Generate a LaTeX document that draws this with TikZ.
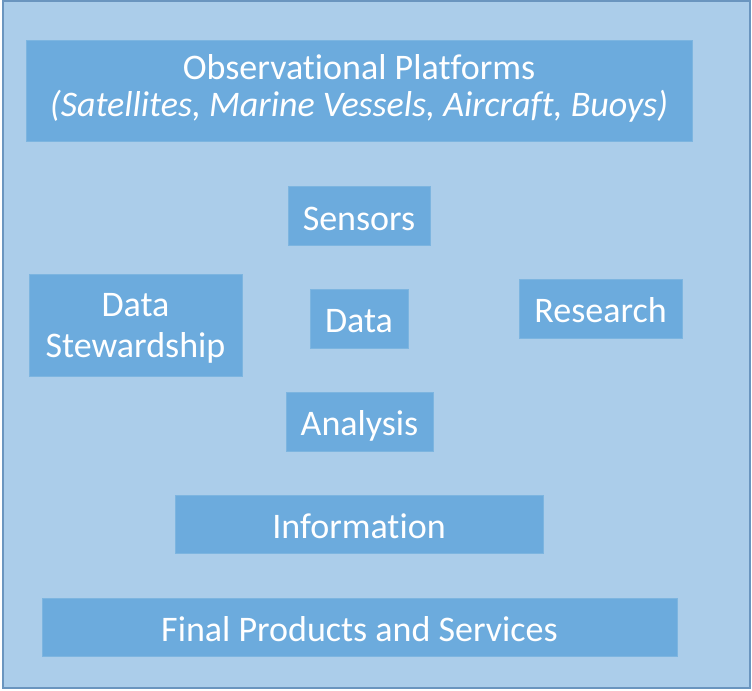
\documentclass[tikz,border=0pt]{standalone}
\usepackage{fontspec}
\setmainfont{Carlito}[Ligatures={NoCommon,NoContextual}]
\usetikzlibrary{positioning}
\definecolor{panelfill}{HTML}{ABCDEA}
\definecolor{paneldraw}{HTML}{6A95BF}
\definecolor{boxfill}{HTML}{6CABDD}
\definecolor{boxdraw}{HTML}{7DB5E0}
% text of a box: last baseline #1 below the centre, lines #2 apart
\newcommand{\stagetext}[3]{\raisebox{-#1}[0pt][0pt]{\fontsize{27}{#2}\selectfont\begin{tabular}[b]{@{}c@{}}#3\end{tabular}}}

\begin{document}
\begin{tikzpicture}[x=0.75pt, y=-0.75pt,
				panel/.style={rectangle, draw=paneldraw, fill=panelfill, line width=1.2pt},
				stage/.style={rectangle, draw=boxdraw, fill=boxfill, text=white, inner sep=0pt},
			]
			\useasboundingbox (0,0) rectangle (752,690);
			\draw[panel] (3,1) rectangle (750,688);
			\node[stage, minimum width=666*0.75pt, minimum height=101*0.75pt] (platforms) at (359,90.5) {\stagetext{19.8pt}{27.6pt}{Observational Platforms\\\textit{(Satellites, Marine Vessels, Aircraft, Buoys)}}};
			\node[stage, minimum width=142*0.75pt, minimum height=59*0.75pt] (sensors) at (359,215.5) {\stagetext{11.4pt}{32pt}{Sensors}};
			\node[stage, minimum width=213*0.75pt, minimum height=102*0.75pt] (stewardship) at (135.5,325) {\stagetext{24.2pt}{30.8pt}{Data\\Stewardship}};
			\node[stage, minimum width=98*0.75pt, minimum height=59*0.75pt] (data) at (359,318.5) {\stagetext{10.5pt}{32pt}{Data}};
			\node[stage, minimum width=163*0.75pt, minimum height=59*0.75pt] (research) at (600.5,308.5) {\stagetext{10.6pt}{32pt}{Research}};
			\node[stage, minimum width=147*0.75pt, minimum height=59*0.75pt] (analysis) at (359.5,421.5) {\stagetext{10.3pt}{32pt}{Analysis}};
			\node[stage, minimum width=368*0.75pt, minimum height=58*0.75pt] (information) at (359,524) {\stagetext{10.7pt}{32pt}{Information}};
			\node[stage, minimum width=635*0.75pt, minimum height=58*0.75pt] (products) at (359.5,627) {\stagetext{10.7pt}{32pt}{Final Products and Services}};
			\end{tikzpicture}
\end{document}
